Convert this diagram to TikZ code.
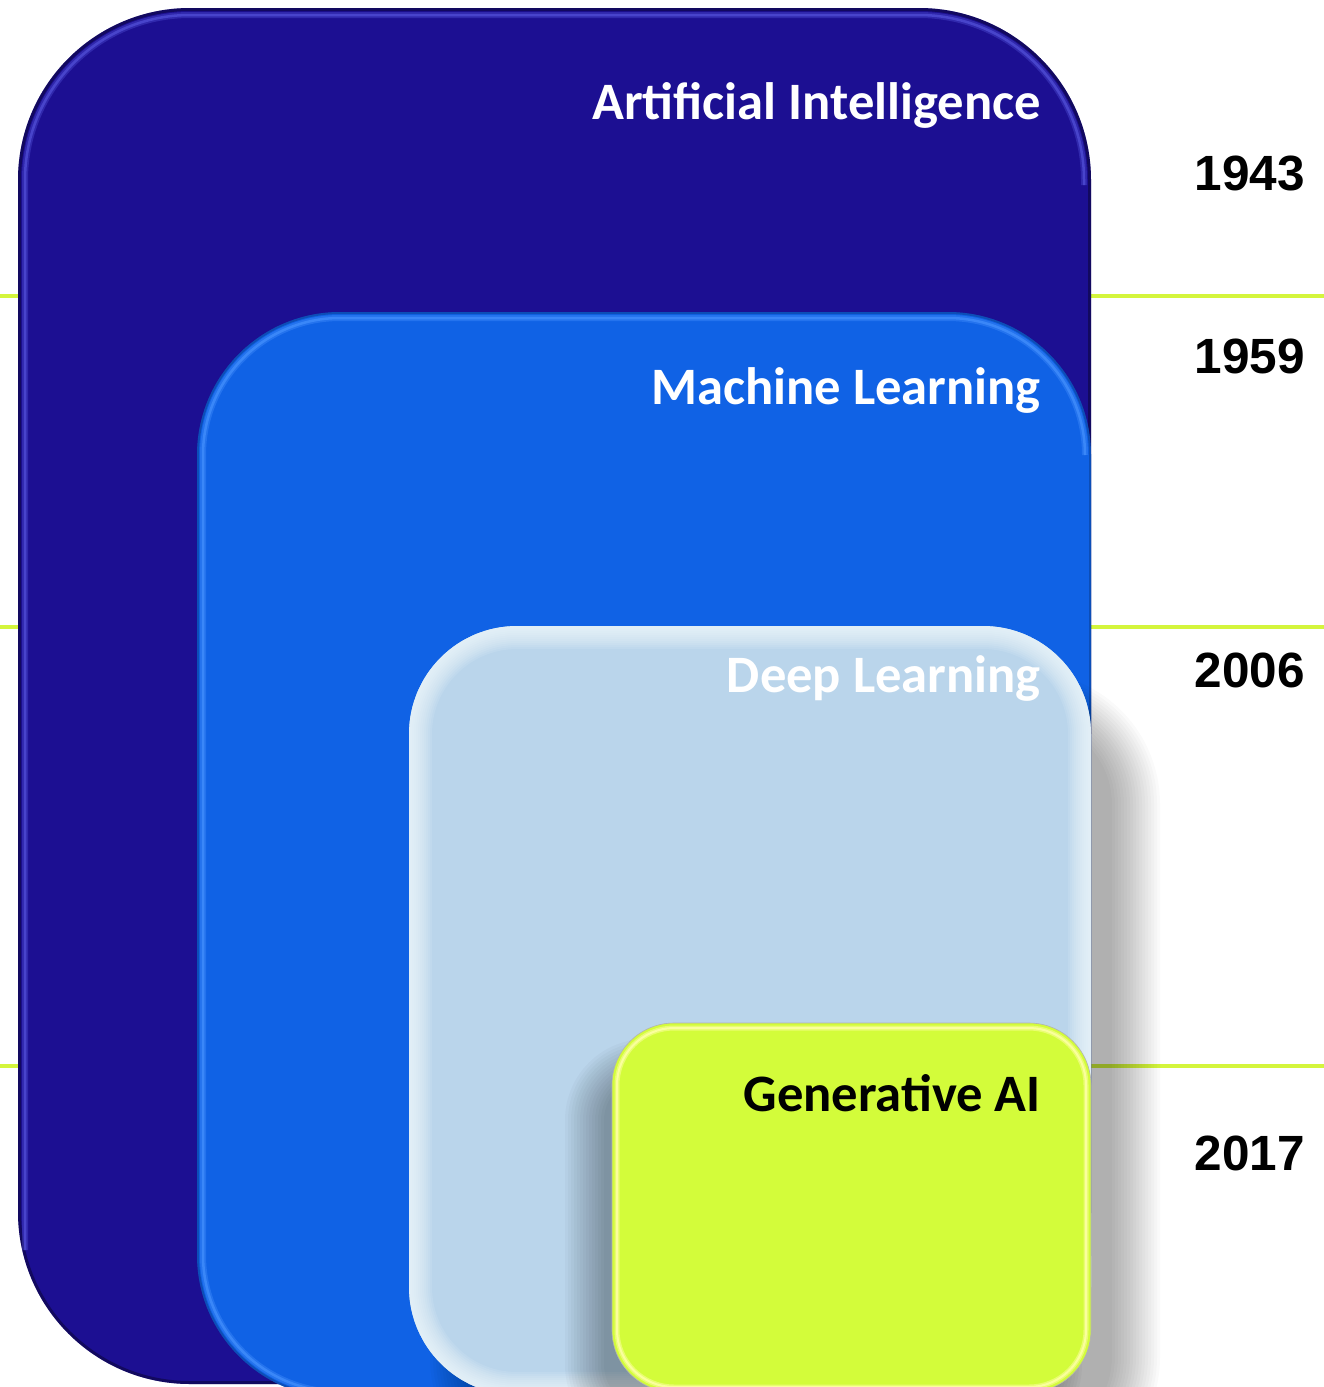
\documentclass[tikz,border=0pt]{standalone}
\usepackage{fontspec}
\newfontfamily\calfont{Carlito}
\newfontfamily\arifont{Liberation Sans}
\definecolor{aiblue}{HTML}{1C0F92}
\definecolor{mlblue}{HTML}{1062E5}
\definecolor{dlblue}{HTML}{BAD5EB}
\definecolor{genlime}{HTML}{D3FC3A}
\definecolor{tline}{HTML}{D4F53C}
\definecolor{aiglow}{HTML}{5858E0}
\definecolor{mlglow}{HTML}{4A95FF}
\definecolor{dlglow}{HTML}{F4FDFF}
\definecolor{genglow}{HTML}{FFFFA8}
\tikzset{
  boxlabel/.style={anchor=base east, inner sep=0pt, font=\calfont\bfseries\fontsize{52.6}{60}\selectfont},
  yearlabel/.style={anchor=base east, inner sep=0pt, font=\arifont\bfseries\fontsize{49.5}{56}\selectfont, text=black},
  timeline/.style={draw=tline, line width=4pt},
  softshadow/.style={fill=black, opacity=#1},
}
\begin{document}
\begin{tikzpicture}[x=1pt,y=-1pt]
\useasboundingbox (0,0) rectangle (1324,1387);
\clip (0,0) rectangle (1324,1387);
\fill[white] (0,0) rectangle (1324,1387);

% timeline separators
\coordinate (t1w) at (0,296);  \coordinate (t1e) at (1324,296);
\coordinate (t2w) at (0,627);  \coordinate (t2e) at (1324,627);
\coordinate (t3w) at (0,1066); \coordinate (t3e) at (1324,1066);
\draw[timeline] (t1w) -- (t1e);
\draw[timeline] (t2w) -- (t2e);
\draw[timeline] (t3w) -- (t3e);

% Artificial Intelligence box
\fill[aiblue, rounded corners=172pt] (18,8) rectangle (1091,1384);
\begin{scope}
  \clip[rounded corners=172pt] (18,8) rectangle (1091,1384);
  \draw[black, opacity=0.35, line width=6pt, rounded corners=172pt] (18,8) rectangle (1091,1384);
  \draw[aiglow, opacity=0.35, line width=6pt, rounded corners=165pt] (25,1250) -- (25,15) -- (1084,15) -- (1084,185);
  \draw[aiglow, opacity=0.6, line width=2.5pt, rounded corners=165pt] (25,1250) -- (25,15) -- (1084,15) -- (1084,185);
\end{scope}

% Machine Learning box
\fill[mlblue, rounded corners=143pt] (197,312) rectangle (1091,1398);
\begin{scope}
  \clip[rounded corners=143pt] (197,312) rectangle (1091,1398);
  \draw[black, opacity=0.2, line width=4pt, rounded corners=143pt] (197,312) rectangle (1091,1398);
  \draw[mlglow, opacity=0.35, line width=6pt, rounded corners=137pt] (1085,455) -- (1085,318) -- (203,318) -- (203,1392) -- (700,1392);
  \draw[mlglow, opacity=0.6, line width=2.5pt, rounded corners=137pt] (1085,455) -- (1085,318) -- (203,318) -- (203,1392) -- (700,1392);
\end{scope}

% shadow of Deep Learning box
\foreach \e in {-24,-21,...,24} {
  \fill[softshadow=0.02, rounded corners={108pt+\e pt}] ({454-\e},{696-\e}) rectangle ({1136+\e},{1465+\e});
}

% Deep Learning box
\fill[dlblue, rounded corners=108pt] (409,626) rectangle (1091,1395);
\begin{scope}
  \clip[rounded corners=108pt] (409,626) rectangle (1091,1395);
  \foreach \w in {46,42,...,6} {
    \draw[dlglow, opacity=0.11, line width=\w pt, rounded corners=108pt] (409,626) rectangle (1091,1395);
  }
\end{scope}

% shadow of Generative AI box
\foreach \e in {-20,-17,...,20} {
  \fill[softshadow=0.025, rounded corners={62pt+\e pt}] ({584-\e},{1058-\e}) rectangle ({1063+\e},{1427+\e});
}

% Generative AI box
\fill[genlime, rounded corners=62pt] (612,1023) rectangle (1091,1392);
\begin{scope}
  \clip[rounded corners=62pt] (612,1023) rectangle (1091,1392);
  \draw[genglow, opacity=0.5, line width=5pt, rounded corners=57pt] (617,1028) rectangle (1086,1387);
  \draw[genglow, opacity=0.8, line width=2pt, rounded corners=57pt] (617,1028) rectangle (1086,1387);
\end{scope}
\draw[black!30, line width=0.6pt, rounded corners=62pt] (612,1023) rectangle (1091,1392);

% labels
\node[boxlabel, text=white] (lai)  at (1041,119)  {Artificial Intelligence};
\node[boxlabel, text=white] (lml)  at (1041,404)  {Machine Learning};
\node[boxlabel, text=white] (ldl)  at (1041,692)  {Deep Learning};
\node[boxlabel, text=black] (lgen) at (1041,1111) {Generative AI};

% years
\node[yearlabel] (y1943) at (1305,190)  {1943};
\node[yearlabel] (y1959) at (1305,373)  {1959};
\node[yearlabel] (y2006) at (1305,687)  {2006};
\node[yearlabel] (y2017) at (1305,1170) {2017};
\end{tikzpicture}
\end{document}
